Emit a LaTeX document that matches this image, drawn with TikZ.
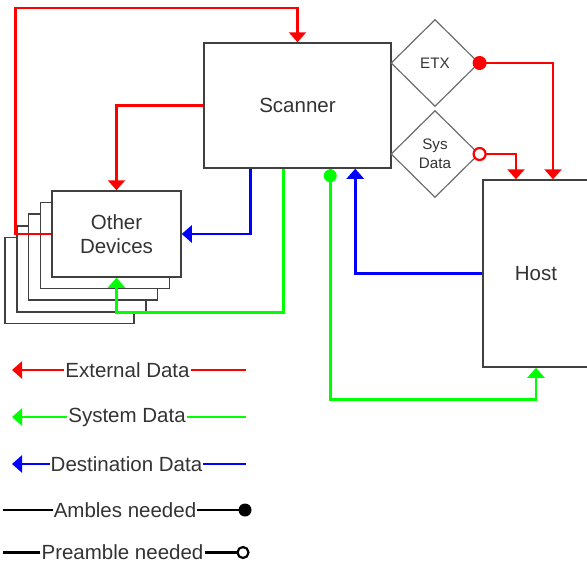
\documentclass[tikz,border=0pt]{standalone}
\usepackage{fontspec}
\setmainfont{Liberation Sans}
\usetikzlibrary{shapes.geometric, arrows.meta}
\definecolor{boxgray}{HTML}{404040}
\definecolor{txtgray}{HTML}{333333}
\definecolor{extred}{HTML}{FF0000}
\definecolor{sysgreen}{HTML}{00FF00}
\definecolor{dstblue}{HTML}{0000FF}
\tikzset{
  unit/.style={rectangle, draw=boxgray, line width=1.5pt, fill=white, text=txtgray, inner sep=0pt,
    font=\fontsize{20.5}{24}\selectfont, align=center},
  gate/.style={diamond, draw=gray!85!black, line width=1.2pt, text=txtgray, inner sep=0pt,
    minimum width=88pt, minimum height=87pt, font=\fontsize{15.2}{18.5}\selectfont, align=center},
  wire/.style={line width=2.9pt},
  flow/.style={wire, -{Triangle[width=17pt,length=10pt]}},
  legtext/.style={text=txtgray, inner sep=1pt, font=\fontsize{20.5}{24}\selectfont}
}

\begin{document}
\begin{tikzpicture}[x=1pt,y=-1pt]
\useasboundingbox (0,0) rectangle (587,565);
% blocks
\node[unit, minimum width=187pt, minimum height=125pt] (scanner) at (297.5,105.5) {Scanner};
\foreach \i in {4,3,2,1}
  \node[unit, minimum width=129pt, minimum height=86pt] (dev\i) at (116.5-11.75*\i,234+11.6*\i) {};
\node[unit, minimum width=129pt, minimum height=86pt] (dev) at (116.5,234) {Other\\Devices};
\node[unit, minimum width=106pt, minimum height=187pt] (host) at (536,273.5) {Host};
\node[gate] (etx) at (435,63) {ETX};
\node[gate] (sysd) at (435,154) {Sys\\Data};
% external data
\draw[flow, extred] (dev.west) -- ++(-36,0) -- ++(0,-226) -| (scanner.north);
\draw[flow, extred] (scanner.west) -| (dev.north);
\draw[flow, extred] (etx.east) -| ([xshift=17pt]host.north);
\draw[flow, extred] (sysd.east) -| ([xshift=-20pt]host.north);
\fill[extred] (etx.east) circle (7);
\draw[extred, line width=2.2pt, fill=white] (sysd.east) circle (6);
% destination data
\draw[flow, dstblue] ([xshift=47pt]scanner.south west) |- (dev.east);
\draw[flow, dstblue] (host.west) -| ([xshift=152pt]scanner.south west);
% system data
\draw[flow, sysgreen] ([xshift=80pt]scanner.south west) -- ++(0,144) -| (dev.south);
\draw[flow, sysgreen] ([xshift=127pt]scanner.south west) -- ++(0,231) -| (host.south);
\fill[sysgreen] ([xshift=127pt,yshift=-7pt]scanner.south west) circle (6.5);
% legend
\coordinate (startx) at (3,0);
\coordinate (tipx) at (12,0);
\coordinate (endx) at (246,0);
\foreach \name/\txt/\col/\xc/\yc in {lext/External Data/extred/127.5/370,
    lsys/System Data/sysgreen/127/417, ldst/Destination Data/dstblue/126.5/464} {
  \node[legtext] (\name) at (\xc,\yc) {\txt};
  \draw[flow, \col] (\name.west) -- (\name.west -| tipx);
  \draw[wire, \col] (\name.east) -- (\name.east -| endx);
}
\node[legtext] (lamb) at (125,510) {Ambles needed};
\draw[wire] (lamb.west) -- (lamb.west -| startx);
\draw[wire] (lamb.east) -- ([xshift=-1pt]lamb.east -| endx);
\fill ([xshift=-1pt]lamb.east -| endx) circle (6.5);
\node[legtext] (lpre) at (122.5,552.5) {Preamble needed};
\draw[wire] (lpre.west) -- (lpre.west -| startx);
\draw[wire] (lpre.east) -- ([xshift=-3pt]lpre.east -| endx);
\draw[line width=2.2pt, fill=white] ([xshift=-3pt]lpre.east -| endx) circle (5.5);
\end{tikzpicture}
\end{document}
